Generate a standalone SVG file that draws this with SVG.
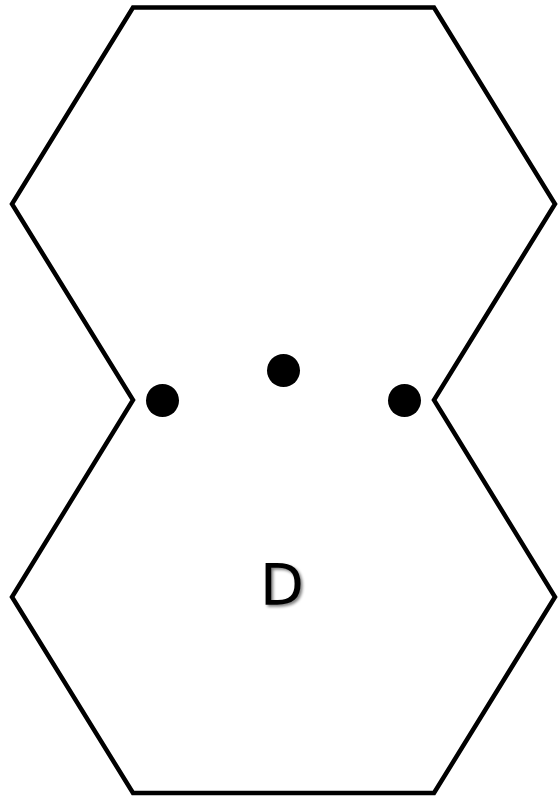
<svg xmlns="http://www.w3.org/2000/svg" width="558" height="797" viewBox="0 0 558 797">
<defs>
<style>
.outline{fill:none;stroke:#000;stroke-width:4.5;stroke-linejoin:miter}
.dot{fill:#000}
.lbl{font-family:"DejaVu Sans",sans-serif;font-size:57px;fill:#000;text-anchor:middle}
</style>
<filter id="sh" x="-30%" y="-30%" width="160%" height="160%">
<feGaussianBlur in="SourceAlpha" stdDeviation="1.5"/>
<feOffset dx="2" dy="2" result="b"/>
<feComponentTransfer><feFuncA type="linear" slope="0.5"/></feComponentTransfer>
<feMerge><feMergeNode/><feMergeNode in="SourceGraphic"/></feMerge>
</filter>
</defs>
<rect width="558" height="797" fill="#fff"/>
<g id="shape">
<polygon class="outline" points="133,7.5 434,7.5 555,204 434,400 555,597 434,793 133,793 12,597 133,400 12,204"/>
</g>
<g id="dots">
<circle class="dot" cx="162.5" cy="400.5" r="16.5"/>
<circle class="dot" cx="283.5" cy="370.5" r="16.5"/>
<circle class="dot" cx="404.5" cy="400.5" r="16.5"/>
</g>
<g id="label">
<text class="lbl" x="282" y="605" filter="url(#sh)">D</text>
</g>
</svg>
